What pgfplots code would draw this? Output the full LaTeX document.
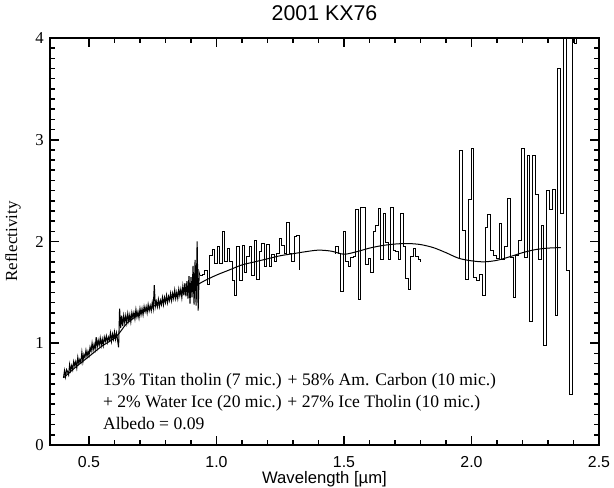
\documentclass[border=0pt]{standalone}
\usepackage{fontspec}
\setmainfont{Liberation Serif}
\newfontfamily\sansf{Liberation Sans}
\usepackage{pgfplots}
\pgfplotsset{compat=1.18}

% dense part of the spectrum (0.40 - 0.93 micron)
\pgfplotstableread{
x y
0.400 0.66
0.404 0.73
0.408 0.67
0.412 0.74
0.416 0.72
0.420 0.69
0.424 0.79
0.428 0.73
0.432 0.78
0.436 0.74
0.440 0.82
0.444 0.78
0.448 0.82
0.452 0.76
0.456 0.86
0.460 0.80
0.464 0.84
0.468 0.81
0.472 0.91
0.476 0.82
0.480 0.89
0.484 0.86
0.488 0.93
0.492 0.87
0.496 0.92
0.500 0.88
0.504 0.96
0.508 0.92
0.512 1.00
0.516 0.93
0.520 0.99
0.524 0.94
0.528 1.06
0.532 0.96
0.536 1.03
0.540 0.98
0.544 1.05
0.548 0.98
0.552 1.04
0.556 0.98
0.560 1.06
0.564 1.02
0.568 1.07
0.572 1.01
0.576 1.06
0.580 1.03
0.584 1.10
0.588 1.02
0.592 1.09
0.596 1.04
0.600 1.11
0.604 1.04
0.608 1.10
0.612 1.03
0.616 0.96
0.620 1.34
0.624 1.15
0.628 1.27
0.632 1.17
0.636 1.27
0.640 1.20
0.644 1.27
0.648 1.20
0.652 1.29
0.656 1.22
0.660 1.28
0.664 1.21
0.668 1.30
0.672 1.25
0.676 1.30
0.680 1.24
0.684 1.33
0.688 1.26
0.692 1.31
0.696 1.25
0.700 1.34
0.704 1.28
0.708 1.34
0.712 1.28
0.716 1.36
0.720 1.31
0.724 1.36
0.728 1.30
0.732 1.38
0.736 1.32
0.740 1.37
0.744 1.32
0.748 1.40
0.752 1.34
0.756 1.57
0.760 1.36
0.764 1.41
0.768 1.36
0.772 1.43
0.776 1.36
0.780 1.42
0.784 1.38
0.788 1.45
0.792 1.38
0.796 1.45
0.800 1.40
0.804 1.47
0.808 1.40
0.812 1.46
0.816 1.42
0.820 1.49
0.824 1.42
0.828 1.49
0.832 1.44
0.836 1.52
0.840 1.44
0.844 1.50
0.848 1.44
0.852 1.53
0.856 1.47
0.860 1.53
0.864 1.45
0.868 1.56
0.872 1.47
0.876 1.59
0.880 1.46
0.884 1.61
0.888 1.44
0.892 1.66
0.896 1.39
0.900 1.65
0.904 1.45
0.908 1.76
0.912 1.38
0.916 1.82
0.920 1.37
0.924 2.00
0.928 1.32
0.932 1.69
0.934 1.67
}\dense

% binned spectrum, first piece
\pgfplotstableread{
x y
0.934 1.67
0.944 1.68
0.953 1.72
0.963 1.58
0.973 1.86
0.983 1.92
0.992 1.78
1.002 1.95
1.012 1.78
1.022 2.10
1.032 1.80
1.041 1.93
1.051 1.80
1.061 1.62
1.071 1.47
1.080 1.95
1.090 1.62
1.100 1.96
1.110 1.70
1.119 1.85
1.129 1.95
1.139 1.67
1.149 2.01
1.158 1.63
1.168 1.90
1.178 1.98
1.188 1.75
1.197 1.97
1.207 1.75
1.217 1.87
1.227 1.80
1.236 1.88
1.246 2.03
1.256 1.96
1.266 1.88
1.275 2.19
1.285 1.88
1.295 1.80
1.305 2.05
1.314 2.06
1.324 1.72
}\binA

% binned spectrum, second piece
\pgfplotstableread{
x y
1.468 1.88
1.468 1.95
1.478 1.88
1.488 1.51
1.497 2.10
1.507 1.80
1.517 1.75
1.527 1.84
1.537 1.85
1.546 2.31
1.556 1.43
1.566 2.33
1.576 2.33
1.586 1.77
1.595 1.83
1.605 1.70
1.615 2.10
1.625 2.16
1.635 2.32
1.644 1.82
1.654 2.28
1.664 1.99
1.674 1.82
1.684 2.33
1.693 1.91
1.703 1.90
1.713 1.82
1.723 2.28
1.733 1.95
1.742 1.64
1.752 1.53
1.762 1.85
1.772 1.93
1.782 1.85
1.791 1.82
1.801 1.80
}\binB

% binned spectrum, third piece
\pgfplotstableread{
x y
1.954 1.83
1.954 2.89
1.965 2.11
1.976 1.63
1.987 2.41
1.998 2.91
2.009 1.65
2.020 1.62
2.031 1.68
2.042 1.47
2.053 2.14
2.064 2.27
2.075 1.91
2.086 1.86
2.097 1.83
2.108 2.18
2.119 1.82
2.130 1.95
2.141 2.42
2.152 1.84
2.163 1.45
2.174 1.86
2.185 2.01
2.196 2.91
2.207 1.84
2.218 2.85
2.229 1.21
2.240 2.85
2.251 2.46
2.262 1.82
2.273 2.16
2.284 0.98
2.295 2.50
2.306 2.31
2.317 2.51
2.328 1.27
2.339 3.70
2.350 2.28
2.361 4.50
2.372 1.72
2.383 0.50
2.394 4.50
2.405 3.95
2.413 4.50
}\binC

% model spectrum
\pgfplotstableread{
x y
0.400 0.66
0.450 0.77
0.500 0.87
0.550 0.97
0.600 1.05
0.625 1.12
0.650 1.20
0.700 1.29
0.750 1.36
0.800 1.42
0.850 1.48
0.900 1.54
0.950 1.61
1.000 1.67
1.050 1.72
1.100 1.77
1.150 1.80
1.200 1.83
1.250 1.86
1.300 1.88
1.350 1.90
1.400 1.915
1.450 1.905
1.500 1.875
1.550 1.90
1.600 1.935
1.650 1.96
1.700 1.975
1.750 1.98
1.800 1.97
1.850 1.94
1.900 1.89
1.950 1.835
2.000 1.81
2.050 1.80
2.100 1.815
2.150 1.85
2.200 1.89
2.250 1.92
2.300 1.935
2.350 1.94
}\model

\begin{document}
\begin{tikzpicture}
\useasboundingbox (-37.5pt,-32.25pt) rectangle (423pt,333.75pt);
\begin{axis}[
  at={(0pt,0pt)}, anchor=south west,
  scale only axis, width=411.75pt, height=305.25pt,
  xmin=0.347, xmax=2.5, ymin=0, ymax=4,
  xtick={0.5,1.0,1.5,2.0,2.5}, minor x tick num=4,
  ytick={0,1,2,3,4}, minor y tick num=9,
  tick align=inside, tick pos=both,
  major tick length=6.5pt, minor tick length=3.5pt,
  tick style={black, line width=1.2pt},
  axis line style={black, line width=0.8pt},
  xticklabel style={font=\sansf\fontsize{11.9}{14}\selectfont,
    anchor=center, inner sep=0pt, yshift=-12.75pt,
    /pgf/number format/fixed, /pgf/number format/fixed zerofill,
    /pgf/number format/precision=1,
    /pgf/number format/assume math mode=true},
  yticklabel style={font=\fontsize{12.5}{14}\selectfont,
    anchor=east, inner sep=0pt, xshift=-4.5pt,
    /pgf/number format/assume math mode=true},
  clip mode=individual,
]
  \addplot[black, line width=0.8pt] table {\dense};
  \addplot[black, line width=0.7pt, const plot] table {\binA};
  \addplot[black, line width=0.7pt, const plot] table {\binB};
  \addplot[black, line width=0.7pt, const plot] table {\binC};
  \addplot[black, line width=0.75pt, smooth] table {\model};

  \node[anchor=base west, inner sep=0pt, font=\fontsize{13.2}{16}\selectfont]
    at (axis cs:0.554,0.585) {13\% Titan tholin (7 mic.) + 58\% Am. Carbon (10 mic.)};
  \node[anchor=base west, inner sep=0pt, font=\fontsize{13.2}{16}\selectfont]
    at (axis cs:0.554,0.370) {+ 2\% Water Ice (20 mic.) + 27\% Ice Tholin (10 mic.)};
  \node[anchor=base west, inner sep=0pt, font=\fontsize{13.2}{16}\selectfont]
    at (axis cs:0.554,0.155) {Albedo = 0.09};

  \node[font=\sansf\fontsize{16}{19}\selectfont, inner sep=0pt]
    at ([yshift=19pt]axis description cs:0.5,1) {2001 KX76};
  \node[font=\sansf\fontsize{12.5}{15}\selectfont, inner sep=0pt]
    at ([yshift=-25.5pt]axis description cs:0.5,0) {Wavelength [µm]};
  \node[font=\fontsize{12.7}{15}\selectfont, inner sep=0pt, rotate=90]
    at ([xshift=-27.75pt]axis description cs:0,0.5) {Reflectivity};
\end{axis}
\end{tikzpicture}
\end{document}
